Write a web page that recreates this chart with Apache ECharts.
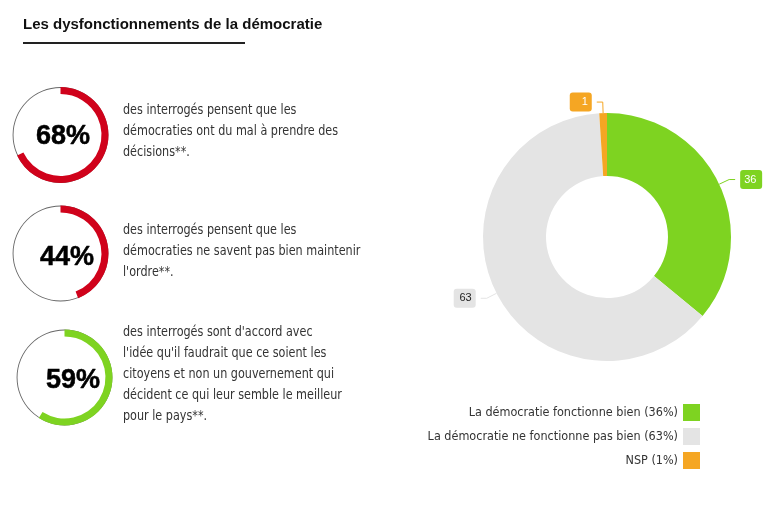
<!DOCTYPE html>
<html>
<head>
    <meta charset="utf-8">
    <title>Les dysfonctionnements de la démocratie</title>
    <script src="https://cdn.jsdelivr.net/npm/echarts@6/dist/echarts.min.js"></script>
    <style>
        html, body {margin: 0; padding: 0; background: #fff;}
        #chartmain {width: 776px; height: 506px;}
    </style>
</head>
<body>
<div id="chartmain"></div>
<script>
    // jauges de gauche
    var gaugeValues = [68, 44, 59];
    var gaugeTexts = [
        'des interrogés pensent que les\ndémocraties ont du mal à prendre des\ndécisions**.',
        'des interrogés pensent que les\ndémocraties ne savent pas bien maintenir\nl\'ordre**.',
        'des interrogés sont d\'accord avec\nl\'idée qu\'il faudrait que ce soient les\ncitoyens et non un gouvernement qui\ndécident ce qui leur semble le meilleur\npour le pays**.'
    ];
    // donut
    var donutNames = ['La démocratie fonctionne bien', 'La démocratie ne fonctionne pas bien', 'NSP'];
    var donutValues = [36, 63, 1];

    var gaugeColors = ['#d0021b', '#d0021b', '#7ed321'];
    var gaugeCenters = [[60.5, 135], [60.5, 253.5], [64.5, 377.5]];
    var pctPos = [[63, 137], [67, 258], [73, 381]];
    var textTop = [99.5, 219.5, 321.5];
    var sliceColors = ['#7ed321', '#e4e4e4', '#f5a623'];
    var labelTextColors = ['#fff', '#222', '#fff'];

    var condensed = '"DejaVu Sans Condensed", sans-serif';

    var series = [];
    var graphic = [
        {type: 'text', left: 23, top: 17, style: {text: 'Les dysfonctionnements de la démocratie',
            font: 'bold 15px "Liberation Sans", Arial, sans-serif', fill: '#111'}},
        {type: 'rect', shape: {x: 23, y: 42, width: 222, height: 2}, style: {fill: '#222'}}
    ];

    for (var i = 0; i < gaugeValues.length; i++) {
        // cercle fin
        series.push({
            type: 'pie', silent: true, center: gaugeCenters[i], radius: [47, 47.9],
            label: {show: false}, labelLine: {show: false},
            itemStyle: {color: '#666'}, data: [1]
        });
        // arc
        series.push({
            type: 'pie', silent: true, center: gaugeCenters[i], radius: [41, 48],
            startAngle: 90, clockwise: true,
            label: {show: false}, labelLine: {show: false},
            data: [
                {value: gaugeValues[i], itemStyle: {color: gaugeColors[i]}},
                {value: 100 - gaugeValues[i], itemStyle: {color: 'rgba(0,0,0,0)'}}
            ]
        });
        graphic.push({type: 'text', x: pctPos[i][0], y: pctPos[i][1], style: {
            text: gaugeValues[i] + '%', font: 'bold 27px "Liberation Sans", Arial, sans-serif',
            fill: '#000', stroke: '#000', lineWidth: 0.5, textAlign: 'center', textVerticalAlign: 'middle'}});
        graphic.push({type: 'text', x: 123, y: textTop[i], scaleX: 0.89, style: {
            text: gaugeTexts[i], font: '14px ' + condensed, lineHeight: 21, fill: '#333'}});
    }

    var donutData = [];
    for (var k = 0; k < donutValues.length; k++) {
        donutData.push({
            name: donutNames[k], value: donutValues[k],
            itemStyle: {color: sliceColors[k]},
            label: {backgroundColor: sliceColors[k], color: labelTextColors[k]}
        });
    }
    series.push({
        type: 'pie', center: [607, 237], radius: [61, 124], startAngle: 90, clockwise: true,
        label: {show: true, formatter: '{c}', fontSize: 11, lineHeight: 13, fontFamily: 'Arial, sans-serif',
            width: 14, overflow: 'none', align: 'center', padding: [3, 4, 3, 4], borderRadius: 3},
        labelLine: {show: true, length: 11, length2: 6, lineStyle: {width: 1}},
        data: donutData
    });

    var myChart = echarts.init(document.getElementById('chartmain'));
    myChart.setOption({
        animation: false,
        legend: {
            orient: 'vertical', right: 71, top: 399, align: 'right',
            itemWidth: 17, itemHeight: 17, itemGap: 7, icon: 'rect',
            data: donutNames,
            formatter: function (name) {
                return name + ' (' + donutValues[donutNames.indexOf(name)] + '%)';
            },
            textStyle: {fontSize: 12.5, fontFamily: condensed, color: '#333'}
        },
        graphic: graphic,
        series: series
    });
</script>
</body>
</html>
